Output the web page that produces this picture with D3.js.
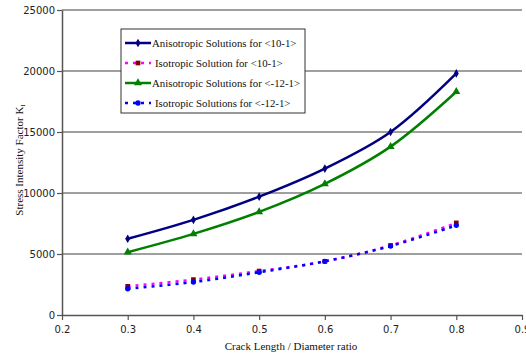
<!DOCTYPE html>
<html>
<head>
<meta charset="utf-8">
<script src="https://cdn.jsdelivr.net/npm/d3@7"></script>
<style>
  body { margin: 0; background: #fff; }
  svg { display: block; }
</style>
</head>
<body>
<script>
// crack length / diameter ratio
const ratios = [0.3, 0.4, 0.5, 0.6, 0.7, 0.8];
const anisoA = [6250, 7800, 9700, 12000, 15000, 19800];   // <10-1>
const isoA = [2350, 2900, 3600, 4400, 5700, 7550];        // <10-1>
const anisoB = [5150, 6650, 8450, 10750, 13800, 18300];   // <-12-1>
const isoB = [2150, 2700, 3500, 4400, 5650, 7350];        // <-12-1>
const xTicks = [0.2, 0.3, 0.4, 0.5, 0.6, 0.7, 0.8, 0.9];
const yTicks = [0, 5000, 10000, 15000, 20000, 25000];

const W = 526, H = 358;
const m = {left: 62, right: 4, top: 10, bottom: 43};

const svg = d3.select("body").append("svg").attr("width", W).attr("height", H);

const x = d3.scaleLinear().domain([0.2, 0.9]).range([m.left, W - m.right]);
const y = d3.scaleLinear().domain([0, 25000]).range([H - m.bottom, m.top]);

// gridlines
svg.append("g").selectAll("line").data(yTicks.slice(1)).join("line")
  .attr("x1", m.left).attr("x2", W - m.right)
  .attr("y1", d => y(d)).attr("y2", d => y(d))
  .attr("stroke", "#7f7f7f").attr("stroke-width", 1.5);

const tickFont = "DejaVu Sans, Verdana, sans-serif";

const yAxis = svg.append("g").attr("transform", `translate(${m.left},0)`)
  .call(d3.axisLeft(y).tickValues(yTicks).tickSize(5).tickSizeOuter(0).tickFormat(d3.format("d")));
const xAxis = svg.append("g").attr("transform", `translate(0,${H - m.bottom})`)
  .call(d3.axisBottom(x).tickValues(xTicks).tickSize(5).tickSizeOuter(0).tickFormat(d3.format(".1f")));
[xAxis, yAxis].forEach(a => {
  a.select(".domain").attr("stroke", "#555").attr("stroke-width", 1.5);
  a.selectAll(".tick line").attr("stroke", "#555").attr("stroke-width", 1.2);
  a.selectAll("text").attr("font-family", tickFont).attr("font-size", 10).attr("fill", "#222");
});
yAxis.selectAll("text").attr("x", -7);
xAxis.selectAll("text").attr("y", 11);

// axis titles
const serif = "Liberation Serif, Times New Roman, serif";
svg.append("text").attr("x", 291).attr("y", 350).attr("text-anchor", "middle")
  .attr("font-family", serif).attr("font-size", 11).attr("fill", "#111").text("Crack Length / Diameter ratio");
const yt = svg.append("text").attr("transform", "translate(23,160) rotate(-90)")
  .attr("text-anchor", "middle").attr("font-family", serif).attr("font-size", 11).attr("fill", "#111");
yt.append("tspan").text("Stress Intensity Factor K");
yt.append("tspan").attr("font-size", 7).attr("dy", 2).text("I");

const series = [
  {name: "Anisotropic Solutions for <10-1>", vals: anisoA, color: "#000080", width: 2.5, dash: null, marker: "diamond", mcolor: "#000080"},
  {name: "Isotropic Solution for <10-1>", vals: isoA, color: "#ff00ff", width: 2.5, dash: "3,5", marker: "square", mcolor: "#800000"},
  {name: "Anisotropic Solutions for <-12-1>", vals: anisoB, color: "#008000", width: 2.5, dash: null, marker: "triangle", mcolor: "#008000"},
  {name: "Isotropic Solutions for <-12-1>", vals: isoB, color: "#0000ff", width: 2.5, dash: "3,5", marker: "circle", mcolor: "#0000ff"}
];
const symType = {diamond: d3.symbolDiamond, square: d3.symbolSquare, triangle: d3.symbolTriangle, circle: d3.symbolCircle};
const symSize = {diamond: 22, square: 22, triangle: 28, circle: 22};

const line = d3.line().x((d, i) => x(ratios[i])).y(d => y(d)).curve(d3.curveCatmullRom.alpha(0.5));

series.forEach(s => {
  svg.append("path").datum(s.vals).attr("d", line)
    .attr("fill", "none").attr("stroke", s.color).attr("stroke-width", s.width)
    .attr("stroke-dasharray", s.dash);
  svg.append("g").selectAll("path").data(s.vals).join("path")
    .attr("transform", (d, i) => `translate(${x(ratios[i])},${y(d)})`)
    .attr("d", d3.symbol().type(symType[s.marker]).size(symSize[s.marker]))
    .attr("fill", s.mcolor);
});

// legend
const lg = svg.append("g").attr("transform", "translate(121,29)");
lg.append("rect").attr("width", 184).attr("height", 84)
  .attr("fill", "#fff").attr("stroke", "#333").attr("stroke-width", 1);
series.forEach((s, i) => {
  const r = lg.append("g").attr("transform", `translate(0,${14 + i * 20})`);
  r.append("line").attr("x1", 4).attr("x2", 30).attr("y1", 0).attr("y2", 0)
    .attr("stroke", s.color).attr("stroke-width", s.width).attr("stroke-dasharray", s.dash);
  r.append("path").attr("transform", "translate(17,0)")
    .attr("d", d3.symbol().type(symType[s.marker]).size(symSize[s.marker])).attr("fill", s.mcolor);
  r.append("text").attr("x", s.dash ? 34 : 31).attr("y", 4)
    .attr("font-family", serif).attr("font-size", 10.8).attr("fill", "#111").text(s.name);
});
</script>
</body>
</html>
